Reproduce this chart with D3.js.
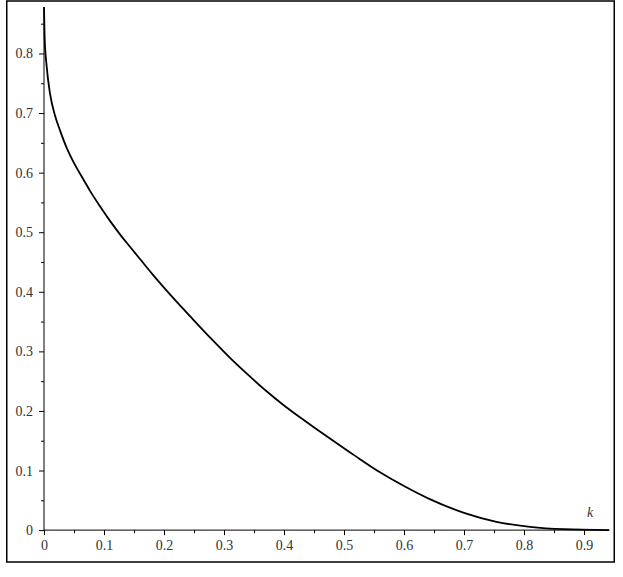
<!DOCTYPE html>
<html>
<head>
<meta charset="utf-8">
<script src="https://cdn.jsdelivr.net/npm/d3@7"></script>
<style>
  body { margin: 0; background: #fff; }
  svg .tick text, svg .lab { font-family: "Liberation Serif", "Times New Roman", serif; font-size: 14px; fill: #333; }
</style>
</head>
<body>
<div id="chart"></div>
<script>
// values
var kValues = [0, 0.001, 0.0045, 0.01, 0.018, 0.027, 0.038, 0.049, 0.066, 0.077, 0.093,
  0.11, 0.127, 0.143, 0.16, 0.182, 0.207, 0.249, 0.277, 0.31, 0.343, 0.371, 0.399,
  0.427, 0.455, 0.482, 0.518, 0.56, 0.6, 0.643, 0.7, 0.754, 0.81, 0.866, 0.942];
var fValues = [0.878, 0.828, 0.778, 0.733, 0.697, 0.670, 0.641, 0.618, 0.588, 0.569, 0.544,
  0.519, 0.496, 0.476, 0.455, 0.428, 0.399, 0.353, 0.323, 0.289, 0.258, 0.233, 0.21,
  0.189, 0.169, 0.150, 0.125, 0.097, 0.074, 0.052, 0.029, 0.014, 0.0055, 0.0015, 0.0];
var xTicks = [0, 0.1, 0.2, 0.3, 0.4, 0.5, 0.6, 0.7, 0.8, 0.9];
var xMinor = [0.05, 0.15, 0.25, 0.35, 0.45, 0.55, 0.65, 0.75, 0.85];
var yTicks = [0, 0.1, 0.2, 0.3, 0.4, 0.5, 0.6, 0.7, 0.8];
var yMinor = [0.05, 0.15, 0.25, 0.35, 0.45, 0.55, 0.65, 0.75, 0.85];
var xLabel = "k";

var w = 623;
var h = 577;

var svg = d3.select("#chart")
  .append("svg")
  .attr("width", w)
  .attr("height", h);

// frame
svg.append("rect")
  .attr("x", 6.75)
  .attr("y", 1)
  .attr("width", 607.5)
  .attr("height", 561)
  .attr("fill", "none")
  .attr("stroke", "#000")
  .attr("stroke-width", 1.5);

var x = d3.scaleLinear().domain([0, 0.942]).range([44, 609.2]);
var y = d3.scaleLinear().domain([0, 0.878]).range([530.1, 7]);

var fmt = function(d) { return d === 0 ? "0" : d3.format(".1f")(d); };

// x axis
var gx = svg.append("g").attr("transform", "translate(0," + y(0) + ")");
gx.call(d3.axisBottom(x).tickValues(xTicks).tickSize(5).tickPadding(5).tickFormat(fmt));
gx.append("g").call(d3.axisBottom(x).tickValues(xMinor).tickSize(3).tickFormat(""))
  .select(".domain").remove();
gx.select(".domain").attr("d", "M" + x(0) + ",0H" + x(0.942));

// y axis
var gy = svg.append("g").attr("transform", "translate(" + x(0) + ",0)");
gy.call(d3.axisLeft(y).tickValues(yTicks).tickSize(5).tickPadding(6).tickFormat(fmt));
gy.append("g").call(d3.axisLeft(y).tickValues(yMinor).tickSize(3).tickFormat(""))
  .select(".domain").remove();
gy.select(".domain").attr("d", "M0," + y(0) + "V" + y(0.878));

// curve
var pts = kValues.map(function(k, i) { return [k, fValues[i]]; });
var line = d3.line()
  .x(function(d) { return x(d[0]); })
  .y(function(d) { return y(d[1]); })
  .curve(d3.curveMonotoneX);

svg.append("path")
  .datum(pts)
  .attr("d", line)
  .attr("fill", "none")
  .attr("stroke", "#000")
  .attr("stroke-width", 1.8);

svg.append("text")
  .attr("class", "lab")
  .attr("x", x(0.905))
  .attr("y", y(0.022))
  .style("font-style", "italic")
  .text(xLabel);
</script>
</body>
</html>
